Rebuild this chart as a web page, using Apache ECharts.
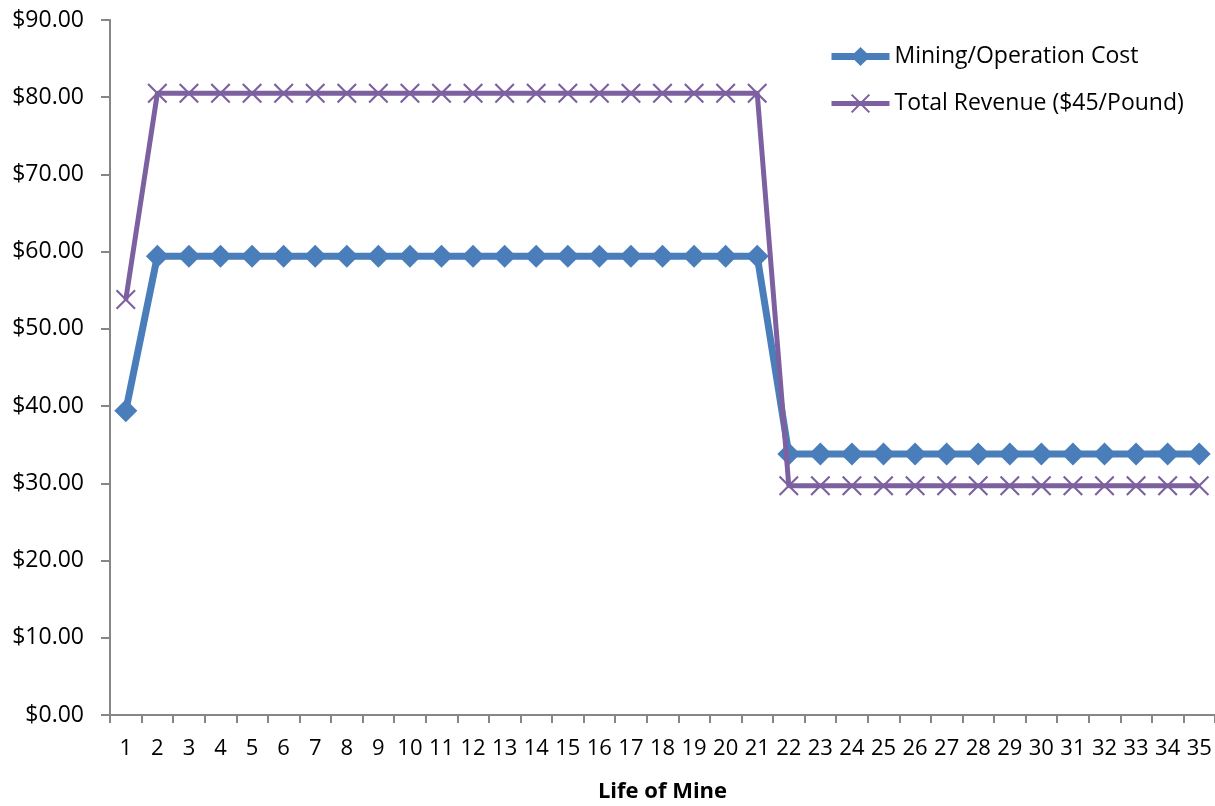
<!DOCTYPE html>
<html>
<head>
<meta charset="utf-8">
<script src="https://cdn.jsdelivr.net/npm/echarts@6/dist/echarts.min.js"></script>
<style>
html,body{margin:0;padding:0;background:#fff;}
#chart{width:1215px;height:806px;}
</style>
</head>
<body>
<div id="chart"></div>
<script>
var categories = ['1','2','3','4','5','6','7','8','9','10','11','12','13','14','15','16','17','18','19','20','21','22','23','24','25','26','27','28','29','30','31','32','33','34','35'];
var miningCost = [39.4, 59.4, 59.4, 59.4, 59.4, 59.4, 59.4, 59.4, 59.4, 59.4, 59.4, 59.4, 59.4, 59.4, 59.4, 59.4, 59.4, 59.4, 59.4, 59.4, 59.4, 33.8, 33.8, 33.8, 33.8, 33.8, 33.8, 33.8, 33.8, 33.8, 33.8, 33.8, 33.8, 33.8, 33.8];
var totalRevenue = [53.8, 80.5, 80.5, 80.5, 80.5, 80.5, 80.5, 80.5, 80.5, 80.5, 80.5, 80.5, 80.5, 80.5, 80.5, 80.5, 80.5, 80.5, 80.5, 80.5, 80.5, 29.7, 29.7, 29.7, 29.7, 29.7, 29.7, 29.7, 29.7, 29.7, 29.7, 29.7, 29.7, 29.7, 29.7];
var seriesNames = ['Mining/Operation Cost', 'Total Revenue ($45/Pound)'];
var xAxisTitle = 'Life of Mine';

var FONT = '"Open Sans", sans-serif';
var xSymbol = 'path://M0,1.5L1.5,0L10,8.5L18.5,0L20,1.5L11.5,10L20,18.5L18.5,20L10,11.5L1.5,20L0,18.5L8.5,10Z';
var costColor = '#4A7EBB';
var revColor = '#7D60A0';

var chart = echarts.init(document.getElementById('chart'), null, {renderer: 'canvas'});
chart.setOption({
  animation: false,
  backgroundColor: '#ffffff',
  grid: {left: 110, right: 0, top: 20, bottom: 91, containLabel: false, outerBoundsMode: 'none'},
  legend: {
    orient: 'vertical',
    left: 823,
    top: 40,
    padding: 5,
    itemWidth: 58,
    itemHeight: 24,
    itemGap: 24,
    textStyle: {fontFamily: FONT, fontSize: 23, color: '#000'},
    data: [
      {name: seriesNames[0], lineStyle: {width: 7, color: costColor}},
      {name: seriesNames[1], lineStyle: {width: 5, color: revColor}}
    ]
  },
  xAxis: {
    type: 'category',
    data: categories,
    boundaryGap: true,
    name: xAxisTitle,
    nameLocation: 'middle',
    nameGap: 66,
    nameTextStyle: {fontFamily: FONT, fontSize: 22, fontWeight: 'bold', color: '#000'},
    axisLine: {lineStyle: {color: '#868686', width: 2}},
    axisTick: {show: true, interval: 0, length: 8, lineStyle: {color: '#868686', width: 2}},
    axisLabel: {interval: 0, margin: 23, fontFamily: FONT, fontSize: 22, color: '#000'},
    splitLine: {show: false}
  },
  yAxis: {
    type: 'value',
    min: 0,
    max: 90,
    interval: 10,
    axisLine: {show: true, lineStyle: {color: '#868686', width: 2}},
    axisTick: {show: true, length: 9, lineStyle: {color: '#868686', width: 2}},
    axisLabel: {margin: 26, fontFamily: FONT, fontSize: 23, color: '#000',
      formatter: function (v) { return '$' + v.toFixed(2); }},
    splitLine: {show: false}
  },
  series: [
    {
      name: seriesNames[0],
      type: 'line',
      data: miningCost,
      symbol: 'diamond',
      symbolSize: 23,
      itemStyle: {color: costColor},
      lineStyle: {color: costColor, width: 7},
      z: 2
    },
    {
      name: seriesNames[1],
      type: 'line',
      data: totalRevenue,
      symbol: xSymbol,
      symbolSize: 20,
      itemStyle: {color: revColor},
      lineStyle: {color: revColor, width: 5},
      z: 3
    }
  ]
});
</script>
</body>
</html>
